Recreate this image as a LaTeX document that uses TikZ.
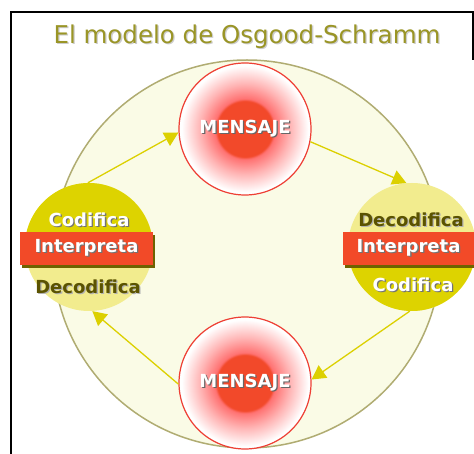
\documentclass[tikz,border=0pt]{standalone}
\usepackage{fontspec}
\setmainfont{DejaVu Sans}
\usepackage{tikz}
\usetikzlibrary{arrows.meta,shadows}

\definecolor{titleolive}{HTML}{9A9526}
\definecolor{bgcream}{HTML}{FAFBE6}
\definecolor{rimolive}{HTML}{B0AC72}
\definecolor{msgred}{HTML}{F2492A}
\definecolor{msgpink}{HTML}{FF7272}
\definecolor{msglight}{HTML}{FFB4B4}
\definecolor{rimred}{HTML}{EE3F35}
\definecolor{darkyel}{HTML}{DDD300}
\definecolor{paleyel}{HTML}{F2EC8E}
\definecolor{bandred}{HTML}{F24A28}
\definecolor{bandshade}{HTML}{6E6200}
\definecolor{flowyel}{HTML}{DCD000}
\definecolor{darktxt}{HTML}{5B5300}

\pgfdeclareradialshading{msgglow}{\pgfpoint{0bp}{0bp}}{color(0bp)=(msgred); color(10.5bp)=(msgred); color(11.5bp)=(msgpink); color(17bp)=(msglight); color(24bp)=(white); color(25bp)=(white)}

\newcommand{\shadowtxt}[3]{\makebox[0pt][l]{\hspace{1.3pt}\raisebox{-1.3pt}{\textcolor{#2}{#3}}}\textcolor{#1}{#3}}

\begin{document}
\begin{tikzpicture}[x=1pt,y=-1pt,
  msg/.style={circle,minimum size=132pt,inner sep=0pt,draw=rimred,line width=1.2pt,shade,shading=msgglow,font=\fontsize{18}{20}\selectfont\bfseries},
  side/.style={circle,minimum size=128pt,inner sep=0pt,fill=paleyel},
  band/.style={rectangle,fill=bandred,minimum height=33pt,inner sep=0pt,drop shadow={shadow xshift=2pt,shadow yshift=-3pt,fill=bandshade,opacity=1},font=\fontsize{18}{20}\selectfont\bfseries},
  lbl/.style={font=\fontsize{18}{20}\selectfont\bfseries},
  flow/.style={draw=flowyel,line width=1.3pt,-{Triangle[length=14pt,width=15pt]}}]
\useasboundingbox (0,0) rectangle (474,454);
\draw[line width=2pt] (11,454) -- (11,12) -- (473,12) -- (473,60);
\node[font=\fontsize{24.5}{28}\selectfont] (title) at (247,37) {\shadowtxt{titleolive}{black!20}{El modelo de Osgood-Schramm}};
\node[circle,minimum size=388pt,fill=bgcream,draw=rimolive,line width=1.5pt] (disc) at (247,254) {};
\foreach \nm/\yy in {msgtop/129,msgbot/383}
  \node[msg] (\nm) at (245,\yy) {\shadowtxt{white}{black!60}{MENSAJE}};
% emisor / receptor
\node[side] (codl) at (89,247) {};
\fill[darkyel] (codl.west) arc[start angle=180,end angle=0,radius=64pt] -- cycle;
\node[side] (codr) at (412,247) {};
\fill[darkyel] (codr.west) arc[start angle=180,end angle=360,radius=64pt] -- cycle;
\node[band,minimum width=133pt] (bandl) at (86.5,248.5) {\shadowtxt{white}{black!55}{Interpreta}};
\node[band,minimum width=131pt] (bandr) at (408.5,248.5) {\shadowtxt{white}{black!55}{Interpreta}};
\node[lbl] (codl-top) at (89,220) {\shadowtxt{white}{black!55}{Codifica}};
\node[lbl] (codl-bot) at (88,287) {\shadowtxt{darktxt}{black!30}{Decodifica}};
\node[lbl] (codr-top) at (411,220) {\shadowtxt{darktxt}{black!30}{Decodifica}};
\node[lbl] (codr-bot) at (413,285) {\shadowtxt{white}{black!55}{Codifica}};
% flujo
\draw[flow] (codl.91) -- (msgtop.183);
\draw[flow] (msgtop.349) -- (codr.95);
\draw[flow] (codr.268) -- (msgbot.3);
\draw[flow] (msgbot.181) -- (codl.273);
\end{tikzpicture}
\end{document}
